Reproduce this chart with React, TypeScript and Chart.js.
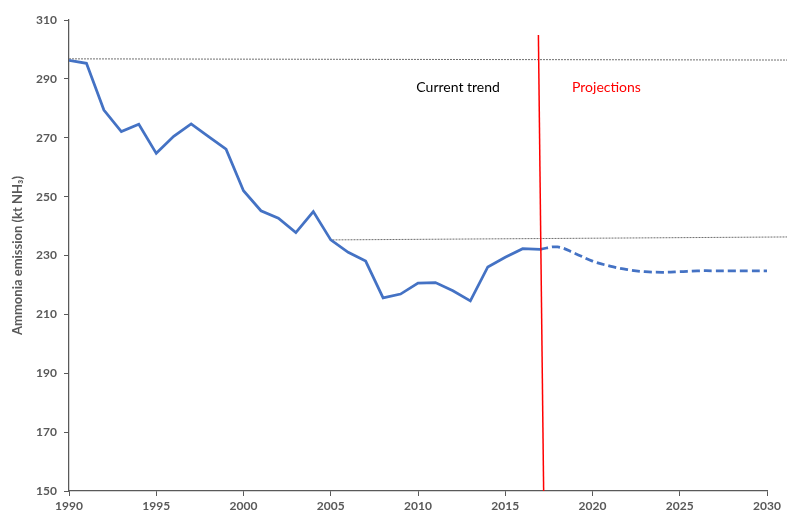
import { useEffect, useRef } from "react";
import { Chart, registerables } from "chart.js";

Chart.register(...registerables);

// ---- data ----
const historyYears = [1990, 1991, 1992, 1993, 1994, 1995, 1996, 1997, 1998, 1999, 2000, 2001, 2002, 2003, 2004, 2005, 2006, 2007, 2008, 2009, 2010, 2011, 2012, 2013, 2014, 2015, 2016, 2017];
const historyValues = [296.3, 295.3, 279.4, 272.1, 274.6, 264.7, 270.5, 274.7, 270.4, 266.1, 252.0, 245.2, 242.7, 237.8, 244.9, 235.3, 231.1, 228.1, 215.6, 216.9, 220.6, 220.8, 218.0, 214.6, 226.1, 229.4, 232.3, 232.1];

const projectionYears = [2017, 2018, 2019, 2020, 2021, 2022, 2023, 2024, 2025, 2026, 2027, 2028, 2029, 2030];
const projectionValues = [232.1, 232.9, 230.7, 228.1, 226.4, 225.2, 224.5, 224.3, 224.5, 224.8, 224.8, 224.8, 224.8, 224.8];

const topRefYears = [1990, 2031.15];
const topRefValues = [296.8, 296.4];
const lowRefYears = [2005.1, 2031.15];
const lowRefValues = [235.3, 236.3];

const dividerYears = [2016.9, 2017.2];
const dividerValues = [304.9, 150];

const noteTexts = ["Current trend", "Projections"];
const noteYears = [2012.3, 2020.8];
const noteValues = [287.2, 287.2];
const noteColors = ["#000000", "#FF0000"];

const xTicks = [1990, 1995, 2000, 2005, 2010, 2015, 2020, 2025, 2030];
const yTicks = [150, 170, 190, 210, 230, 250, 270, 290, 310];
const yTitle = "Ammonia emission (kt NH₃)";

const FONT = "Lato, 'Liberation Sans', sans-serif";
const AXIS_GREY = "#595959";

const toPoints = (xs: number[], ys: number[]) => xs.map((x, i) => ({ x, y: ys[i] }));

const notesPlugin = {
  id: "notes",
  afterDatasetsDraw(chart: any) {
    const { ctx, scales } = chart;
    ctx.save();
    ctx.font = `14px ${FONT}`;
    ctx.textAlign = "center";
    ctx.textBaseline = "middle";
    noteTexts.forEach((t, i) => {
      ctx.fillStyle = noteColors[i];
      ctx.fillText(t, scales.x.getPixelForValue(noteYears[i]), scales.y.getPixelForValue(noteValues[i]));
    });
    ctx.restore();
  },
};

export default function App() {
  const ref = useRef<HTMLCanvasElement>(null);
  useEffect(() => {
    if (!ref.current) return;
    const chart = new Chart(ref.current, {
      type: "line",
      data: {
        datasets: [
          {
            data: toPoints(dividerYears, dividerValues),
            borderColor: "#FF0000",
            borderWidth: 1.5,
            pointRadius: 0,
            clip: false,
            order: 0,
          } as any,
          {
            data: toPoints(historyYears, historyValues),
            borderColor: "#4472C4",
            borderWidth: 2.75,
            pointRadius: 0,
            tension: 0,
            order: 1,
          },
          {
            data: toPoints(projectionYears, projectionValues),
            borderColor: "#4472C4",
            borderWidth: 2.75,
            borderDash: [8, 4],
            pointRadius: 0,
            tension: 0.4,
            order: 1,
          },
          {
            data: toPoints(topRefYears, topRefValues),
            borderColor: "#6e6e6e",
            borderWidth: 1,
            borderDash: [2, 1],
            pointRadius: 0,
            clip: false,
            order: 2,
          } as any,
          {
            data: toPoints(lowRefYears, lowRefValues),
            borderColor: "#6e6e6e",
            borderWidth: 1,
            borderDash: [2, 1],
            pointRadius: 0,
            clip: false,
            order: 2,
          } as any,
        ],
      },
      options: {
        animation: false,
        responsive: false,
        maintainAspectRatio: false,
        layout: { padding: { left: 0, right: 20, top: 20, bottom: 0 } },
        plugins: { legend: { display: false }, tooltip: { enabled: false } },
        scales: {
          x: {
            type: "linear",
            min: 1990,
            max: 2030,
            afterBuildTicks: (s: any) => {
              s.ticks = xTicks.map((v) => ({ value: v }));
            },
            afterFit: (s: any) => {
              s.height = 22;
            },
            ticks: {
              color: AXIS_GREY,
              font: { family: FONT, size: 12, weight: "bold" },
              padding: 3,
              maxRotation: 0,
              callback: (v: any) => String(v),
            },
            grid: { display: true, drawOnChartArea: false, drawTicks: true, tickLength: 5, color: AXIS_GREY },
            border: { display: true, color: AXIS_GREY, width: 1.25 },
          },
          y: {
            type: "linear",
            min: 150,
            max: 310,
            afterBuildTicks: (s: any) => {
              s.ticks = yTicks.map((v) => ({ value: v }));
            },
            afterFit: (s: any) => {
              s.width = 69;
            },
            ticks: {
              color: AXIS_GREY,
              font: { family: FONT, size: 12, weight: "bold" },
              padding: 7,
              callback: (v: any) => String(v),
            },
            grid: { display: true, drawOnChartArea: false, drawTicks: true, tickLength: 5, color: AXIS_GREY },
            border: { display: true, color: AXIS_GREY, width: 1.25 },
            title: {
              display: true,
              text: yTitle,
              color: AXIS_GREY,
              font: { family: FONT, size: 13, weight: "bold" },
              padding: { top: 10, bottom: 0 },
            },
          },
        },
      },
      plugins: [notesPlugin],
    });
    return () => chart.destroy();
  }, []);
  return (
    <div style={{ position: "fixed", left: 0, top: 0, width: 787, height: 513, background: "#fff" }}>
      <canvas ref={ref} width={787} height={513} />
    </div>
  );
}
